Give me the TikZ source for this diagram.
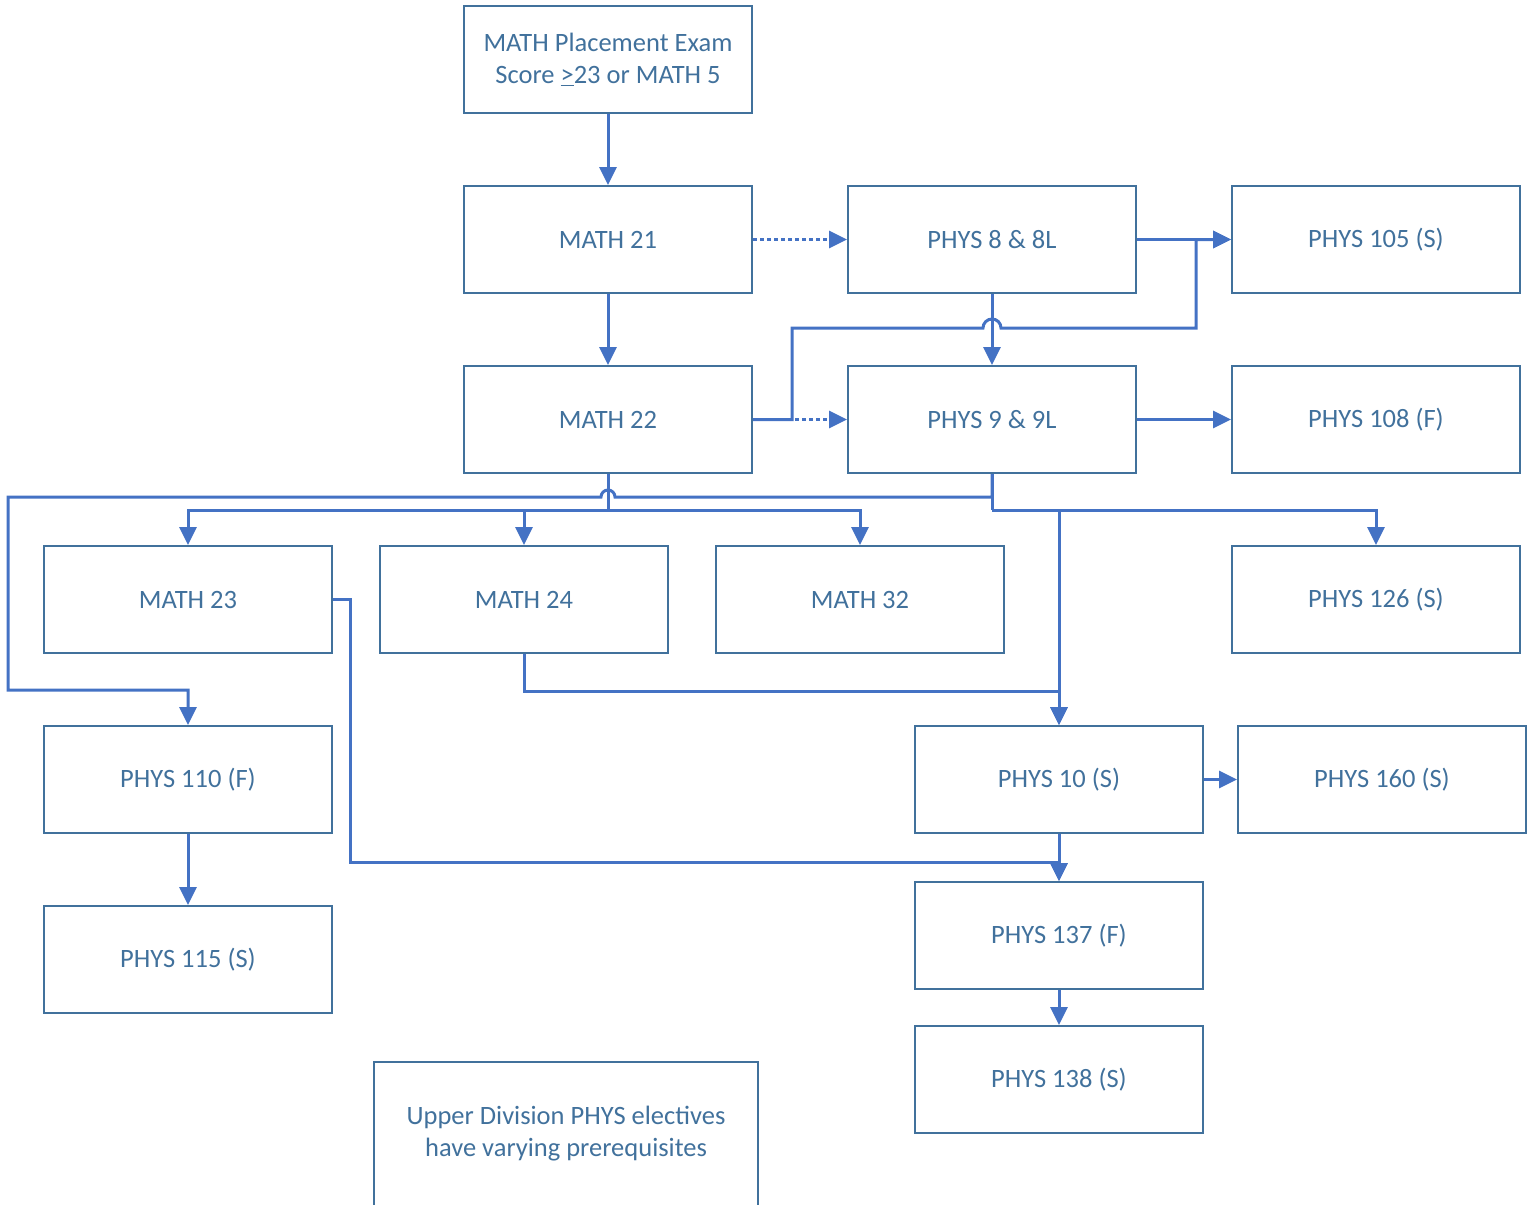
\documentclass[tikz,border=0pt]{standalone}
\usepackage{fontspec}
\setmainfont{Carlito}
\usepackage{tikz}
\usetikzlibrary{arrows.meta}

\definecolor{boxc}{HTML}{41719C}
\definecolor{linec}{HTML}{4472C4}

\tikzset{
  course/.style={draw=boxc, line width=2pt, text=boxc, minimum width=288pt,
    minimum height=107pt, inner sep=0pt, align=center, font=\fontsize{26.5}{32}\selectfont},
  link/.style={draw=linec, line width=3pt},
  arr/.style={link, -{Triangle[length=18pt,width=17pt]}},
  dots/.style={dash pattern=on 4pt off 3pt}
}

\begin{document}
\begin{tikzpicture}[x=1pt,y=-1pt]
\clip (0,0) rectangle (1533,1204);
\node[course](place) at (608,59.5) {MATH Placement Exam\\Score \underline{>}23 or MATH 5};
\node[course](m21) at (608,239.5) {MATH 21};
\node[course](m22) at (608,419.5) {MATH 22};
\node[course](p8) at (992,239.5) {PHYS 8 \& 8L};
\node[course](p9) at (992,419.5) {PHYS 9 \& 9L};
\node[course](p105) at (1376,239.5) {PHYS 105 (S)};
\node[course](p108) at (1376,419.5) {PHYS 108 (F)};
\node[course](m23) at (188,599.5) {MATH 23};
\node[course](m24) at (524,599.5) {MATH 24};
\node[course](m32) at (860,599.5) {MATH 32};
\node[course](p126) at (1376,599.5) {PHYS 126 (S)};
\node[course](p110) at (188,779.5) {PHYS 110 (F)};
\node[course](p10) at (1059,779.5) {PHYS 10 (S)};
\node[course](p160) at (1382,779.5) {PHYS 160 (S)};
\node[course](p115) at (188,959.5) {PHYS 115 (S)};
\node[course](p137) at (1059,935.5) {PHYS 137 (F)};
\node[course](p138) at (1059,1079.5) {PHYS 138 (S)};
\node[course, minimum width=384pt, minimum height=144pt](note) at (566,1134)
  {Upper Division PHYS electives\\have varying prerequisites};

\path (place) edge [arr] (m21);
\path (m21) edge [arr] (m22);
\path (m21) edge [arr, dots] (p8);
\path (m22) edge [arr, dots] (p9);
\path (p8) edge [arr] (p9);
\path (p8) edge [arr] (p105);
\path (p9) edge [arr] (p108);
\path (p10) edge [arr] (p160);
\path (p10) edge [arr] (p137);
\path (p110) edge [arr] (p115);
\path (p137) edge [arr] (p138);

% MATH 22 also leads to PHYS 105, hopping over PHYS 8 -> PHYS 9
\draw[arr] (m22.east) -| (792,328) -- (983,328)
  arc[start angle=180, end angle=0, radius=9pt] -- (1196,328) |- (p105.west);

% MATH 22 fans out to the math courses
\draw[link] (m22.south) -- (608,510) coordinate (fan);
\draw[arr] (fan) -| (m23.north);
\draw[arr] (fan) -| (m24.north);
\draw[arr] (fan) -| (m32.north);

% PHYS 9 leads on
\draw[arr] (p9.south) -- (992,497) -- (615,497)
  arc[start angle=0, end angle=180, radius=7pt] -- (8,497) |- (188,690) -- (p110.north);
\draw[link] (p9.south) -- (992,510) coordinate (split);
\draw[arr] (split) -| (p126.north);
\draw[arr] (split) -| (p10.north);
\draw[arr] (m24.south) -- ++(0,37) -| (p10.north);
\draw[arr] (m23.east) -- ++(17,0) -- ++(0,263) -| (p137.north);
\end{tikzpicture}
\end{document}
